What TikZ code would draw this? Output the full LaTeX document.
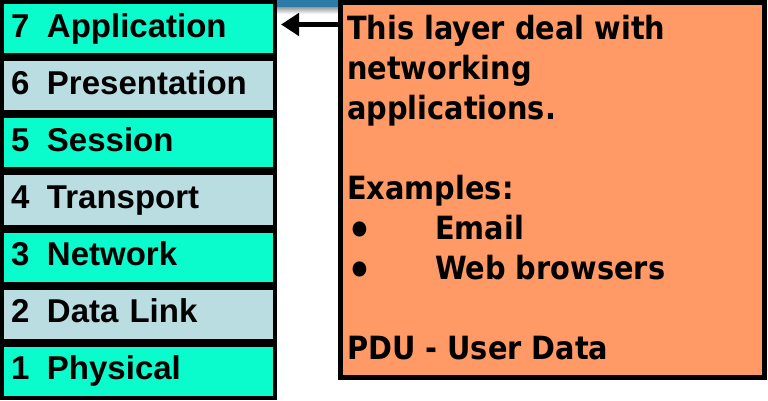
\documentclass[tikz,border=0pt]{standalone}
\usepackage{fontspec}
\usetikzlibrary{arrows.meta}
\newfontfamily\layerfont{Liberation Sans}
\newfontfamily\notefont{DejaVu Sans Condensed}
\definecolor{aqua}{RGB}{10,252,204}
\definecolor{pale}{RGB}{186,221,226}
\definecolor{peach}{RGB}{255,153,102}
\definecolor{strip}{RGB}{44,122,168}
\newcommand{\dotmark}{\makebox[88pt][l]{\smash{\raisebox{-6.5pt}{\scalebox{1.35}{\textbullet}}}}}

\begin{document}
\begin{tikzpicture}[x=1pt,y=1pt]
\tikzstyle{layer}=[draw,line width=4pt,minimum width=273pt,minimum height=53.14pt,text width=255pt,align=left,inner xsep=9pt,inner ysep=0pt,text height=23pt,text depth=6pt,font=\layerfont\bfseries\fontsize{33}{36}\selectfont]
\tikzstyle{notebox}=[draw,line width=5pt,fill=peach,minimum width=424pt,minimum height=375pt]
\useasboundingbox (0,0) rectangle (768,400);
\fill[white] (0,0) rectangle (768,400);
% backdrop strip behind the arrow
\fill[strip] (277,400) rectangle (338,392);
\shade[top color=gray!70,bottom color=white] (277,392) rectangle (338,386);
% the seven layers
\draw (138.5,371.43) node (l7) [layer,fill=aqua] {\makebox[36pt][l]{7}Application};
\draw (138.5,314.29) node (l6) [layer,fill=pale] {\makebox[36pt][l]{6}Presentation};
\draw (138.5,257.14) node (l5) [layer,fill=aqua] {\makebox[36pt][l]{5}Session};
\draw (138.5,200) node (l4) [layer,fill=pale] {\makebox[36pt][l]{4}Transport};
\draw (138.5,142.86) node (l3) [layer,fill=aqua] {\makebox[36pt][l]{3}Network};
\draw (138.5,85.71) node (l2) [layer,fill=pale] {\makebox[36pt][l]{2}Data Link};
\draw (138.5,28.57) node (l1) [layer,fill=aqua] {\makebox[36pt][l]{1}Physical};
% description
\draw (552.5,210) node (note) [notebox] {};
\draw (347,385.5) node (notetext) [anchor=north west,inner sep=0pt,align=left,font=\notefont\bfseries\fontsize{32}{40}\selectfont] {This layer deal with\\networking\\applications.\\[40pt]Examples:\\\dotmark Email\\\dotmark Web browsers\\[40pt]PDU - User Data};
\coordinate (arr) at (0,375.5);
\draw[line width=5.5pt,-{Triangle[length=18pt,width=22pt]},shorten >=4pt] (note.west |- arr) -- (l7.east |- arr);
\end{tikzpicture}
\end{document}
